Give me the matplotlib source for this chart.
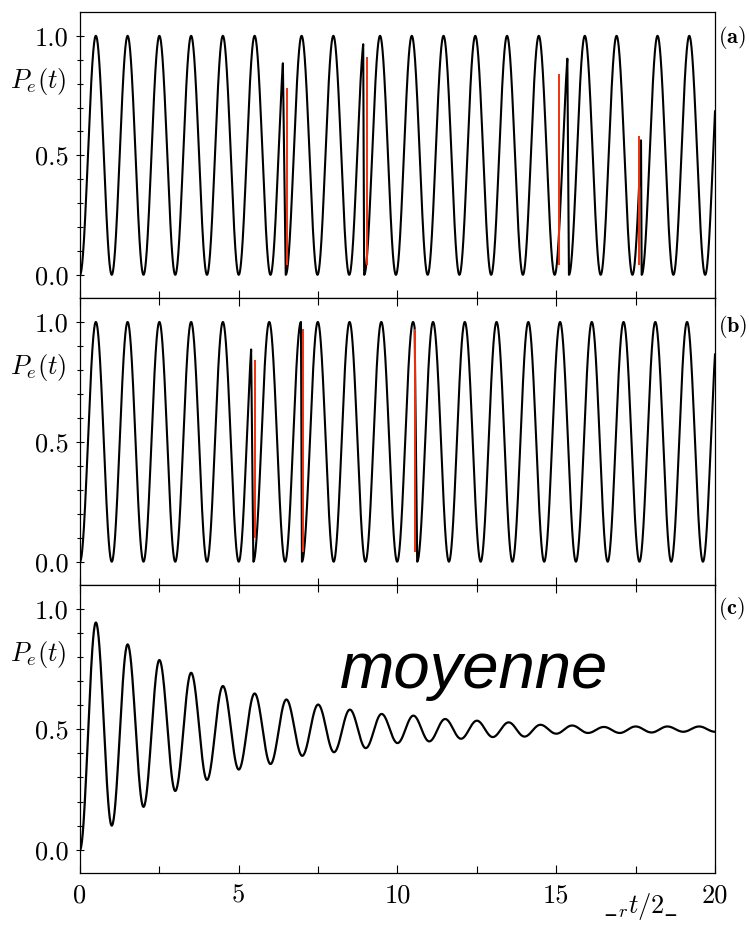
import matplotlib
matplotlib.use("Agg")
import matplotlib.pyplot as plt
import matplotlib.transforms as mtransforms
import numpy as np

plt.rcParams["font.family"] = ["cmr10"]
plt.rcParams["mathtext.fontset"] = "cm"
plt.rcParams["axes.unicode_minus"] = False

# panel (a): trajectory segments (restart time, jump time) in units of Omega_r t / 2pi
A_RESTARTS = [0.0, 6.48, 8.95, 15.40, 17.69]
A_ENDS = [6.39, 8.92, 15.35, 17.67, 20.0]
A_RED_X = [6.51, 9.03, 15.09, 17.61]
A_RED_TOP = [0.78, 0.91, 0.84, 0.58]
A_RED_BOT = [0.04, 0.04, 0.04, 0.04]

# panel (b)
B_RESTARTS = [0.0, 5.46, 6.99, 10.62]
B_ENDS = [5.39, 6.96, 10.54, 20.0]
B_RED_X = [5.51, 7.01, 10.54]
B_RED_TOP = [0.84, 0.97, 0.97]
B_RED_BOT = [0.10, 0.04, 0.04]

# panel (c): extrema of the averaged curve
C_TIMES = [0.0, 0.5, 1.0, 1.5, 2.0, 2.5, 3.0, 3.5, 4.0, 4.5, 5.0, 5.5, 6.0, 6.5,
           7.0, 7.5, 8.0, 8.5, 9.0, 9.5, 10.0, 10.5, 11.0, 11.5, 12.0, 12.5, 13.0,
           13.5, 14.0, 14.5, 15.0, 15.5, 16.0, 16.5, 17.0, 17.5, 18.0, 18.5, 19.0,
           19.5, 20.0]
C_VALUES = [0.0, 0.944, 0.10, 0.853, 0.178, 0.788, 0.244, 0.735, 0.29, 0.68, 0.333,
            0.649, 0.356, 0.624, 0.39, 0.603, 0.405, 0.582, 0.422, 0.564, 0.443,
            0.557, 0.45, 0.543, 0.461, 0.536, 0.468, 0.529, 0.47, 0.519, 0.482,
            0.516, 0.485, 0.51, 0.485, 0.512, 0.487, 0.512, 0.49, 0.512, 0.49]

PANEL_LABELS = ["(a)", "(b)", "(c)"]
X_TICKS = [0, 5, 10, 15, 20]
Y_TICKS = [0.0, 0.5, 1.0]
Y_TICK_LABELS = ["0.0", "0.5", "1.0"]

RED = "#f0300f"


def trajectory(restarts, ends):
    ts, ps = [], []
    for r, e in zip(restarts, ends):
        t = np.linspace(r, e, int((e - r) * 200) + 2)
        ts.append(t)
        ps.append(np.sin(np.pi * (t - r)) ** 2)
    return np.concatenate(ts), np.concatenate(ps)


def through_extrema(times, values):
    ts, ps = [], []
    for i in range(len(times) - 1):
        s = np.linspace(0, 1, 40, endpoint=False)
        ts.append(times[i] + s * (times[i + 1] - times[i]))
        ps.append(values[i] + (values[i + 1] - values[i]) * (1 - np.cos(np.pi * s)) / 2)
    ts.append([times[-1]])
    ps.append([values[-1]])
    return np.concatenate(ts), np.concatenate(ps)


def style_axis(ax, label, label_y, show_xlabels, top_ticks):
    ax.set_xlim(0, 20)
    ax.set_ylim(-0.097, 1.1)
    ax.set_xticks(X_TICKS)
    ax.set_xticks([2.5, 7.5, 12.5, 17.5], minor=True)
    ax.set_yticks(Y_TICKS)
    ax.set_yticklabels(Y_TICK_LABELS)
    ax.set_yticks(np.arange(0.1, 1.0, 0.1), minor=True)
    ax.tick_params(axis="y", which="both", direction="inout", left=True, right=False,
                   labelsize=19, pad=5)
    ax.tick_params(axis="y", which="major", length=6, width=0.8)
    ax.tick_params(axis="y", which="minor", length=4, width=0.8)
    ax.tick_params(axis="x", which="both", direction="in", bottom=True, top=top_ticks,
                   labelsize=19, pad=8, labelbottom=show_xlabels)
    ax.tick_params(axis="x", which="major", length=6, width=0.8)
    ax.tick_params(axis="x", which="minor", length=5, width=0.8)
    for sp in ax.spines.values():
        sp.set_linewidth(0.9)
    trans = mtransforms.blended_transform_factory(ax.transAxes, ax.transData)
    ax.text(-0.066, 0.81, r"$P_e(t)$", transform=trans, ha="center", va="center",
            fontsize=19)
    ax.text(1.004, label_y, r"$\mathbf{" + label + "}$", transform=ax.transAxes,
            ha="left", va="center", fontsize=16)


fig = plt.figure(figsize=(7.49, 9.26), dpi=100)
left, width = 0.1068, 0.8478
ax_a = fig.add_axes([left, 0.6782, width, 0.3089])
ax_b = fig.add_axes([left, 0.3683, width, 0.3099])
ax_c = fig.add_axes([left, 0.0572, width, 0.3111])

t_a, p_a = trajectory(A_RESTARTS, A_ENDS)
ax_a.plot(t_a, p_a, color="black", lw=1.5)
ax_a.vlines(A_RED_X, A_RED_BOT, A_RED_TOP, color=RED, lw=1.4)
style_axis(ax_a, PANEL_LABELS[0], 0.909, False, False)

t_b, p_b = trajectory(B_RESTARTS, B_ENDS)
ax_b.plot(t_b, p_b, color="black", lw=1.5)
ax_b.vlines(B_RED_X, B_RED_BOT, B_RED_TOP, color=RED, lw=1.4)
style_axis(ax_b, PANEL_LABELS[1], 0.902, False, True)

t_c, p_c = through_extrema(C_TIMES, C_VALUES)
ax_c.plot(t_c, p_c, color="black", lw=1.6)
style_axis(ax_c, PANEL_LABELS[2], 0.92, True, True)
ax_c.text(8.19, 0.673, "moyenne", fontfamily="Liberation Sans", fontstyle="italic",
          fontsize=47, ha="left", va="baseline")
xl_trans = mtransforms.blended_transform_factory(ax_c.transData, fig.transFigure)
ax_c.text(17.67, 0.004, r"$\__{r}t/2\_$", transform=xl_trans, ha="center",
          va="bottom", fontsize=19)

fig.savefig("out.png", dpi=100)
